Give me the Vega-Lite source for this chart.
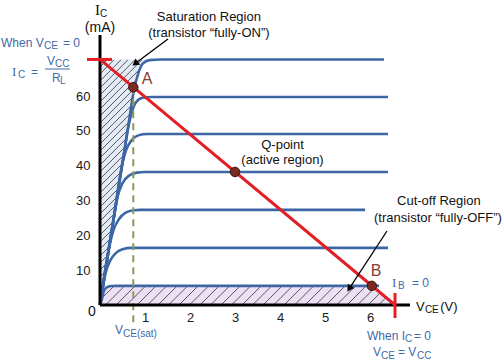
{
  "$schema": "https://vega.github.io/schema/vega-lite/v6.json",
  "width": 504,
  "height": 362,
  "autosize": {"type": "none"},
  "padding": 0,
  "background": "white",
  "config": {"view": {"stroke": null}, "font": "Liberation Sans"},
  "datasets": {
    "satArea": [
      {"y": 0, "x": 0}, {"y": 24.5, "x": 0.3}, {"y": 49, "x": 0.6}, {"y": 61.7, "x": 0.756},
      {"y": 68.6, "x": 0.911}, {"y": 70.5, "x": 1.111}
    ],
    "cutArea": [
      {"x": 0, "y": 0}, {"x": 0.04, "y": 1.5}, {"x": 0.08, "y": 3.8}, {"x": 0.14, "y": 5},
      {"x": 0.25, "y": 5.45}, {"x": 0.4, "y": 5.5}, {"x": 6.04, "y": 5.5}, {"x": 6.556, "y": 0}
    ],
    "hatchSat": [
      {"x":0,"y":2.01,"x2":0.029,"y2":2.38},
      {"x":0,"y":4.02,"x2":0.058,"y2":4.77},
      {"x":0,"y":6.03,"x2":0.087,"y2":7.15},
      {"x":0,"y":8.04,"x2":0.116,"y2":9.53},
      {"x":0,"y":10.05,"x2":0.147,"y2":11.94},
      {"x":0,"y":12.06,"x2":0.176,"y2":14.33},
      {"x":0,"y":14.07,"x2":0.204,"y2":16.71},
      {"x":0,"y":16.08,"x2":0.233,"y2":19.09},
      {"x":0,"y":18.09,"x2":0.262,"y2":21.48},
      {"x":0,"y":20.10,"x2":0.291,"y2":23.86},
      {"x":0,"y":22.11,"x2":0.32,"y2":26.24},
      {"x":0,"y":24.12,"x2":0.349,"y2":28.62},
      {"x":0,"y":26.13,"x2":0.38,"y2":31.04},
      {"x":0,"y":28.14,"x2":0.409,"y2":33.42},
      {"x":0,"y":30.15,"x2":0.438,"y2":35.8},
      {"x":0,"y":32.16,"x2":0.467,"y2":38.19},
      {"x":0,"y":34.17,"x2":0.496,"y2":40.57},
      {"x":0,"y":36.18,"x2":0.524,"y2":42.95},
      {"x":0,"y":38.19,"x2":0.556,"y2":45.36},
      {"x":0,"y":40.2,"x2":0.584,"y2":47.75},
      {"x":0,"y":42.21,"x2":0.613,"y2":50.13},
      {"x":0,"y":44.21,"x2":0.642,"y2":52.51},
      {"x":0,"y":46.22,"x2":0.671,"y2":54.9},
      {"x":0,"y":48.23,"x2":0.7,"y2":57.28},
      {"x":0,"y":50.24,"x2":0.729,"y2":59.66},
      {"x":0,"y":52.25,"x2":0.764,"y2":62.13},
      {"x":0,"y":54.26,"x2":0.829,"y2":64.97},
      {"x":0,"y":56.27,"x2":0.893,"y2":67.82},
      {"x":0,"y":58.28,"x2":0.933,"y2":70.4},
      {"x":0,"y":60.29,"x2":0.778,"y2":70.4},
      {"x":0,"y":62.3,"x2":0.622,"y2":70.4},
      {"x":0,"y":64.31,"x2":0.467,"y2":70.4},
      {"x":0,"y":66.32,"x2":0.311,"y2":70.4},
      {"x":0,"y":68.33,"x2":0.156,"y2":70.4}
    ],
    "hatchCut": [
      {"x":0,"y":1.44,"x2":0.316,"y2":5.5},
      {"x":0.122,"y":0,"x2":0.549,"y2":5.5},
      {"x":0.356,"y":0,"x2":0.782,"y2":5.5},
      {"x":0.589,"y":0,"x2":1.016,"y2":5.5},
      {"x":0.822,"y":0,"x2":1.249,"y2":5.5},
      {"x":1.056,"y":0,"x2":1.482,"y2":5.5},
      {"x":1.289,"y":0,"x2":1.716,"y2":5.5},
      {"x":1.522,"y":0,"x2":1.949,"y2":5.5},
      {"x":1.756,"y":0,"x2":2.182,"y2":5.5},
      {"x":1.989,"y":0,"x2":2.416,"y2":5.5},
      {"x":2.222,"y":0,"x2":2.649,"y2":5.5},
      {"x":2.456,"y":0,"x2":2.882,"y2":5.5},
      {"x":2.689,"y":0,"x2":3.116,"y2":5.5},
      {"x":2.922,"y":0,"x2":3.349,"y2":5.5},
      {"x":3.156,"y":0,"x2":3.582,"y2":5.5},
      {"x":3.389,"y":0,"x2":3.816,"y2":5.5},
      {"x":3.622,"y":0,"x2":4.049,"y2":5.5},
      {"x":3.856,"y":0,"x2":4.282,"y2":5.5},
      {"x":4.089,"y":0,"x2":4.516,"y2":5.5},
      {"x":4.322,"y":0,"x2":4.749,"y2":5.5},
      {"x":4.556,"y":0,"x2":4.982,"y2":5.5},
      {"x":4.789,"y":0,"x2":5.216,"y2":5.5},
      {"x":5.022,"y":0,"x2":5.449,"y2":5.5},
      {"x":5.256,"y":0,"x2":5.682,"y2":5.5},
      {"x":5.489,"y":0,"x2":5.916,"y2":5.5},
      {"x":5.722,"y":0,"x2":6.102,"y2":4.89},
      {"x":5.956,"y":0,"x2":6.229,"y2":3.52},
      {"x":6.189,"y":0,"x2":6.356,"y2":2.15},
      {"x":6.422,"y":0,"x2":6.482,"y2":0.8}
    ],
    "curves": [
      {"c":"IB6","x":0,"y":0},{"c":"IB6","x":0.3,"y":24.5},{"c":"IB6","x":0.6,"y":49},{"c":"IB6","x":0.756,"y":61.7},{"c":"IB6","x":0.85,"y":66.5},{"c":"IB6","x":0.95,"y":69.3},{"c":"IB6","x":1.1,"y":70.3},{"c":"IB6","x":1.35,"y":70.5},{"c":"IB6","x":6.31,"y":70.5},
      {"c":"IB5","x":0,"y":0},{"c":"IB5","x":0.3,"y":24.5},{"c":"IB5","x":0.55,"y":44.9},{"c":"IB5","x":0.62,"y":50.5},{"c":"IB5","x":0.7,"y":55},{"c":"IB5","x":0.8,"y":58.2},{"c":"IB5","x":0.95,"y":59.5},{"c":"IB5","x":1.15,"y":59.7},{"c":"IB5","x":6.4,"y":59.7},
      {"c":"IB4","x":0,"y":0},{"c":"IB4","x":0.3,"y":24.5},{"c":"IB4","x":0.5,"y":40.8},{"c":"IB4","x":0.58,"y":44.5},{"c":"IB4","x":0.7,"y":47.3},{"c":"IB4","x":0.85,"y":48.7},{"c":"IB4","x":1.05,"y":49.1},{"c":"IB4","x":6.4,"y":49.1},
      {"c":"IB3","x":0,"y":0},{"c":"IB3","x":0.3,"y":24.5},{"c":"IB3","x":0.4,"y":31.5},{"c":"IB3","x":0.5,"y":35},{"c":"IB3","x":0.65,"y":37.2},{"c":"IB3","x":0.82,"y":38},{"c":"IB3","x":1.0,"y":38.2},{"c":"IB3","x":6.4,"y":38.2},
      {"c":"IB2","x":0,"y":0},{"c":"IB2","x":0.2,"y":16.3},{"c":"IB2","x":0.3,"y":21.5},{"c":"IB2","x":0.42,"y":24.6},{"c":"IB2","x":0.57,"y":26.5},{"c":"IB2","x":0.75,"y":27.2},{"c":"IB2","x":0.9,"y":27.3},{"c":"IB2","x":5.89,"y":27.3},
      {"c":"IB1","x":0,"y":0},{"c":"IB1","x":0.06,"y":4.9},{"c":"IB1","x":0.12,"y":9},{"c":"IB1","x":0.22,"y":12.6},{"c":"IB1","x":0.35,"y":14.9},{"c":"IB1","x":0.5,"y":16},{"c":"IB1","x":0.7,"y":16.4},{"c":"IB1","x":6.4,"y":16.4},
      {"c":"IB0","x":0,"y":0},{"c":"IB0","x":0.04,"y":1.5},{"c":"IB0","x":0.08,"y":3.8},{"c":"IB0","x":0.14,"y":5},{"c":"IB0","x":0.25,"y":5.45},{"c":"IB0","x":0.4,"y":5.5},{"c":"IB0","x":6.2,"y":5.5}
    ],
    "vsat": [{"x": 0.74, "y": 62.5, "x2": 0.74, "y2": -5.2}],
    "axes": [
      {"x": 0, "y": 0, "x2": 0, "y2": 77.5},
      {"x": 0, "y": 0, "x2": 6.89, "y2": 0}
    ],
    "red": [
      {"x": 0, "y": 70.5, "x2": 6.556, "y2": 0},
      {"x": -0.289, "y": 70.5, "x2": 0.267, "y2": 70.5},
      {"x": 6.556, "y": 3.45, "x2": 6.556, "y2": -3.73}
    ],
    "pts": [
      {"name": "A", "x": 0.74, "y": 62.5},
      {"name": "Q", "x": 3.0, "y": 38.2},
      {"name": "B", "x": 6.04, "y": 5.5}
    ],
    "arrows": [
      {"x": 1.511, "y": 76.37, "x2": 0.782, "y2": 69.31},
      {"x": 6.378, "y": 21.25, "x2": 5.538, "y2": 4.68}
    ],
    "head1": [{"x": 0.782, "y": 69.31}],
    "head2": [{"x": 5.538, "y": 4.68}],
    "blackText": [
      {"x": 2.42, "y": 82.7, "t": "Saturation Region"},
      {"x": 2.42, "y": 78.1, "t": "(transistor “fully-ON”)"},
      {"x": 4.056, "y": 45.94, "t": "Q-point"},
      {"x": 4.056, "y": 41.63, "t": "(active region)"},
      {"x": 7.53, "y": 29.86, "t": "Cut-off Region"},
      {"x": 7.51, "y": 24.98, "t": "(transistor “fully-OFF”)"}
    ],
    "blackCenter": [
      {"x": 0, "y": 79.5, "t": "(mA)"},
      {"x": -0.178, "y": -2.0, "t": "0"}
    ],
    "blackLeft": [
      {"x": 7.02, "y": -0.57, "t": "V"},
      {"x": 7.56, "y": -0.57, "t": "(V)"}
    ],
    "blackSub": [
      {"x": 7.22, "y": -1.44, "t": "CE"},
      {"x": 0.0, "y": 83.5, "t": "C"}
    ],
    "blackSerif": [
      {"x": -0.056, "y": 84.7, "t": "I"}
    ],
    "blueMain": [
      {"x": -2.2, "y": 75.22, "t": "When V"},
      {"x": -0.822, "y": 75.22, "t": "= 0"},
      {"x": -1.533, "y": 66.9, "t": "="},
      {"x": -1.178, "y": 70.05, "t": "V"},
      {"x": -1.067, "y": 65.17, "t": "R"},
      {"x": 6.933, "y": 6.32, "t": "=  0"},
      {"x": 0.333, "y": -7.18, "t": "V"},
      {"x": 5.933, "y": -8.9, "t": "When I"},
      {"x": 6.978, "y": -8.9, "t": "= 0"},
      {"x": 6.067, "y": -13.49, "t": "V"},
      {"x": 6.622, "y": -13.49, "t": "= V"}
    ],
    "blueSub": [
      {"x": -1.244, "y": 74.36, "t": "CE"},
      {"x": -1.822, "y": 66.04, "t": "C"},
      {"x": -1.0, "y": 69.19, "t": "CC"},
      {"x": -0.889, "y": 64.31, "t": "L"},
      {"x": 0.511, "y": -8.33, "t": "CE(sat)"},
      {"x": 6.622, "y": 5.46, "t": "B"},
      {"x": 6.778, "y": -9.76, "t": "C"},
      {"x": 6.244, "y": -14.5, "t": "CE"},
      {"x": 7.044, "y": -14.5, "t": "CC"}
    ],
    "blueSerif": [
      {"x": -1.956, "y": 66.9, "t": "I"},
      {"x": 6.489, "y": 6.32, "t": "I"}
    ],
    "fracBar": [{"x": -1.222, "y": 67.76, "x2": -0.667, "y2": 67.76}],
    "brownText": [
      {"x": 1.044, "y": 64.9, "t": "A"},
      {"x": 6.133, "y": 9.62, "t": "B"}
    ]
  },
  "encoding": {
    "x": {
      "field": "x", "type": "quantitative",
      "scale": {"domain": [-2.2222, 8.9778], "nice": false, "zero": false},
      "axis": {"orient": "bottom", "offset": -57, "values": [1, 2, 3, 4, 5, 6], "domain": false, "ticks": false, "tickSize": 0, "grid": false, "title": null, "labelFontSize": 13, "labelFont": "Liberation Sans", "labelColor": "#1a1a1a", "labelPadding": 6}
    },
    "y": {
      "field": "y", "type": "quantitative",
      "scale": {"domain": [-16.365, 87.568], "nice": false, "zero": false},
      "axis": {"orient": "left", "offset": -100, "values": [10, 20, 30, 40, 50, 60], "domain": false, "ticks": false, "tickSize": 0, "grid": false, "title": null, "labelFontSize": 13, "labelFont": "Liberation Sans", "labelColor": "#1a1a1a", "labelPadding": 10}
    }
  },
  "layer": [
    {"data": {"name": "satArea"}, "mark": {"type": "area", "orient": "horizontal", "color": "#e4ebf7"}, "encoding": {"x2": {"datum": 0}}},
    {"data": {"name": "cutArea"}, "mark": {"type": "area", "color": "#ece1f4"}, "encoding": {"y2": {"datum": 0}}},
    {"data": {"name": "hatchSat"}, "mark": {"type": "rule", "color": "#333333", "strokeWidth": 0.8}, "encoding": {"x2": {"field": "x2"}, "y2": {"field": "y2"}}},
    {"data": {"name": "hatchCut"}, "mark": {"type": "rule", "color": "#333333", "strokeWidth": 0.8}, "encoding": {"x2": {"field": "x2"}, "y2": {"field": "y2"}}},
    {"data": {"name": "curves"}, "mark": {"type": "line", "color": "#3c66a4", "strokeWidth": 2.6, "interpolate": "monotone"}, "encoding": {"detail": {"field": "c"}}},
    {"data": {"name": "vsat"}, "mark": {"type": "rule", "color": "#8a9a5b", "strokeWidth": 2, "strokeDash": [7, 5]}, "encoding": {"x2": {"field": "x2"}, "y2": {"field": "y2"}}},
    {"data": {"name": "axes"}, "mark": {"type": "rule", "color": "#000000", "strokeWidth": 3}, "encoding": {"x2": {"field": "x2"}, "y2": {"field": "y2"}}},
    {"data": {"name": "red"}, "mark": {"type": "rule", "color": "#e31e24", "strokeWidth": 3}, "encoding": {"x2": {"field": "x2"}, "y2": {"field": "y2"}}},
    {"data": {"name": "pts"}, "mark": {"type": "point", "shape": "circle", "filled": true, "fill": "#7a2a22", "stroke": "#3a1510", "strokeWidth": 1, "size": 90, "opacity": 1}},
    {"data": {"name": "arrows"}, "mark": {"type": "rule", "color": "#000000", "strokeWidth": 1.3}, "encoding": {"x2": {"field": "x2"}, "y2": {"field": "y2"}}},
    {"data": {"name": "head1"}, "mark": {"type": "point", "shape": "triangle-up", "filled": true, "fill": "#000000", "size": 60, "angle": 233, "opacity": 1}},
    {"data": {"name": "head2"}, "mark": {"type": "point", "shape": "triangle-up", "filled": true, "fill": "#000000", "size": 60, "angle": 213, "opacity": 1}},
    {"data": {"name": "fracBar"}, "mark": {"type": "rule", "color": "#3f6aa9", "strokeWidth": 1}, "encoding": {"x2": {"field": "x2"}, "y2": {"field": "y2"}}},
    {"data": {"name": "blackText"}, "mark": {"type": "text", "fontSize": 13, "font": "Liberation Sans", "color": "#111111", "align": "center", "baseline": "middle"}, "encoding": {"text": {"field": "t"}}},
    {"data": {"name": "blackCenter"}, "mark": {"type": "text", "fontSize": 14, "font": "Liberation Sans", "color": "#111111", "align": "center", "baseline": "middle"}, "encoding": {"text": {"field": "t"}}},
    {"data": {"name": "blackLeft"}, "mark": {"type": "text", "fontSize": 13, "font": "Liberation Sans", "color": "#111111", "align": "left", "baseline": "middle"}, "encoding": {"text": {"field": "t"}}},
    {"data": {"name": "blackSub"}, "mark": {"type": "text", "fontSize": 10, "font": "Liberation Sans", "color": "#111111", "align": "left", "baseline": "middle"}, "encoding": {"text": {"field": "t"}}},
    {"data": {"name": "blackSerif"}, "mark": {"type": "text", "fontSize": 15, "font": "Liberation Serif", "color": "#111111", "align": "center", "baseline": "middle"}, "encoding": {"text": {"field": "t"}}},
    {"data": {"name": "blueMain"}, "mark": {"type": "text", "fontSize": 12, "font": "Liberation Sans", "color": "#3f6aa9", "align": "left", "baseline": "middle"}, "encoding": {"text": {"field": "t"}}},
    {"data": {"name": "blueSub"}, "mark": {"type": "text", "fontSize": 10, "font": "Liberation Sans", "color": "#3f6aa9", "align": "left", "baseline": "middle"}, "encoding": {"text": {"field": "t"}}},
    {"data": {"name": "blueSerif"}, "mark": {"type": "text", "fontSize": 13, "font": "Liberation Serif", "color": "#3f6aa9", "align": "left", "baseline": "middle"}, "encoding": {"text": {"field": "t"}}},
    {"data": {"name": "brownText"}, "mark": {"type": "text", "fontSize": 16, "font": "Liberation Sans", "color": "#8a3a34", "align": "center", "baseline": "middle"}, "encoding": {"text": {"field": "t"}}}
  ]
}
